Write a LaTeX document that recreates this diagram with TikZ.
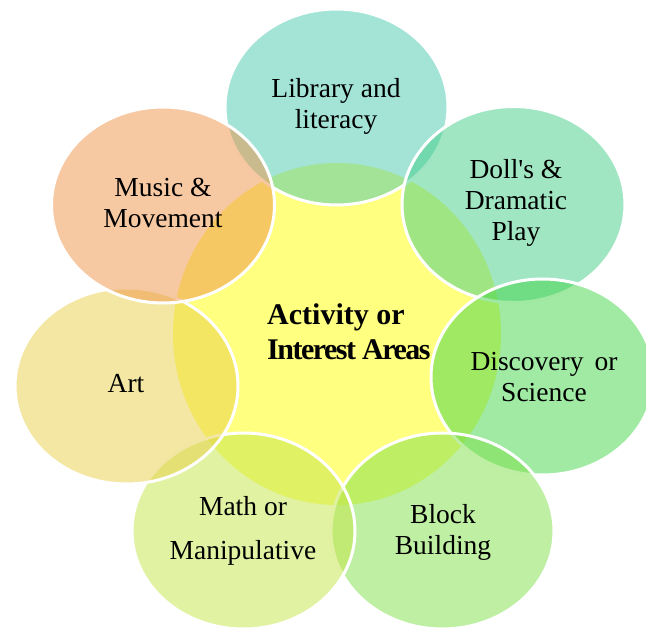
\documentclass[tikz,border=0pt]{standalone}
\usepackage{fontspec}
\setmainfont{Liberation Serif}[Ligatures=TeXOff]
\usetikzlibrary{shapes.geometric}
% base colours of the areas (shown at half opacity)
\definecolor{hubyellow}{RGB}{255,255,128}
\definecolor{cLib}{RGB}{71,201,175}
\definecolor{cDoll}{RGB}{67,205,135}
\definecolor{cDisc}{RGB}{65,213,71}
\definecolor{cBlock}{RGB}{125,223,71}
\definecolor{cMath}{RGB}{195,229,71}
\definecolor{cArt}{RGB}{231,207,71}
\definecolor{cMusic}{RGB}{239,147,71}
\begin{document}
\begin{tikzpicture}[x=1pt,y=-1pt,
  area/.style={ellipse, inner sep=0pt, outer sep=0pt,
    minimum width=223pt, minimum height=196pt,
    fill=#1, fill opacity=0.5, draw=white, draw opacity=1, line width=3pt},
  lbl/.style={align=center, text=black, inner sep=0pt,
    font=\fontsize{27.5}{31}\selectfont},
  hublbl/.style={align=left, text=black, inner sep=0pt,
    font=\fontsize{30}{35}\selectfont\bfseries}
]
\useasboundingbox (0,0) rectangle (646,631);
\begin{scope}
  \clip (0,0) rectangle (646,631);
  % central area
  \node[ellipse, inner sep=0pt, outer sep=0pt, fill=hubyellow,
        minimum width=328pt, minimum height=342pt] (hub) at (337,334) {};
  % surrounding areas, clockwise from the top
  \node[area=cLib]   (lib)   at (336.5,107) {};
  \node[area=cDoll]  (doll)  at (513.5,204.5) {};
  \node[area=cDisc]  (disc)  at (542.5,377) {};
  \node[area=cBlock] (block) at (442.5,531) {};
  \node[area=cMath]  (math)  at (243.5,531) {};
  \node[area=cArt]   (art)   at (126.5,386) {};
  \node[area=cMusic] (music) at (163,205) {};
\end{scope}
% labels
\node[hublbl, anchor=west] (hubtext) at (267,332)
  {Activity or\\{\addfontfeature{LetterSpace=-5}Interest Areas}};
\node[lbl] (libtext)   at (336,106) {Library and\\literacy};
\node[lbl] (dolltext)  at (516,203) {Doll's \&\\Dramatic\\Play};
\node[lbl] (disctext)  at (544,377) {Discovery\hspace{0.15em} or\\Science};
\node[lbl] (blocktext) at (443,532) {Block\\Building};
\node[lbl, font=\fontsize{27.5}{44}\selectfont] (mathtext) at (243,531) {Math or\\Manipulative};
\node[lbl] (arttext)   at (126,384) {Art};
\node[lbl] (musictext) at (163,203) {Music \&\\Movement};
\end{tikzpicture}
\end{document}
